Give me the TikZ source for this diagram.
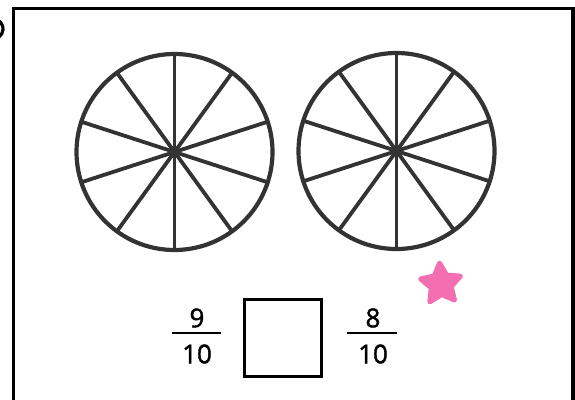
\documentclass[tikz,border=0pt]{standalone}
\usepackage{fontspec}
\setmainfont{Open Sans}
\newfontfamily\digitfont[FakeBold=1.5]{Open Sans}
\usetikzlibrary{shapes.geometric}
\definecolor{ink}{HTML}{333333}
\definecolor{starpink}{HTML}{F46FB1}
\tikzset{
  wheel/.style={draw=ink, line width=4.2pt},
  spoke/.style={draw=ink, line width=3.8pt},
  frac/.style={font=\digitfont\fontsize{26}{29}\selectfont, text=black, inner sep=0pt},
  bar/.style={draw=black, line width=1.8pt},
  answerbox/.style={draw=black, line width=2.3pt, minimum width=77pt, minimum height=77pt, inner sep=0pt},
  frame/.style={draw=black, line width=3.2pt},
}
\begin{document}
\begin{tikzpicture}[x=1pt,y=-1pt]
\useasboundingbox (0,0) rectangle (575,399);
% frame
\coordinate (fbl) at (13.5,405);
\coordinate (ftl) at (13.5,8.5);
\coordinate (ftr) at (573,8.5);
\coordinate (fbr) at (573,405);
\draw[frame] (fbl) -- (ftl) -- (ftr) -- (fbr);
% partial parenthesis at left
\coordinate (pc) at (-7,29);
\draw[black, line width=3.2pt] (pc) ++(-55:10) arc[start angle=-55, end angle=55, radius=10];
% wheels
\foreach \n/\cx/\cy in {A/174.5/152, B/396.5/151}{
  \coordinate (c\n) at (\cx,\cy);
  \draw[wheel] (c\n) circle[radius=98];
  \foreach \a in {0,36,...,324}{
    \draw[spoke] (c\n) -- ++(90+\a:98);
  }
  \fill[ink] (c\n) circle[radius=4.5];
}
% fractions
\node[frac] (n1) at (197,318) {9};
\node[frac] (d1) at (197,354) {10};
\coordinate (b1l) at (172,333);
\coordinate (b1r) at (221,333);
\draw[bar] (b1l) -- (b1r);
\node[answerbox] (box) at (283,338) {};
\node[frac] (n2) at (373,318) {8};
\node[frac] (d2) at (373,354) {10};
\coordinate (b2l) at (347,333);
\coordinate (b2r) at (397,333);
\draw[bar] (b2l) -- (b2r);
% star
\node[star, star points=5, star point ratio=2.0, fill=starpink, draw=starpink, line width=5pt, line join=round, minimum size=42pt, inner sep=0pt, rotate=4] (st) at (441,284) {};
\end{tikzpicture}
\end{document}
